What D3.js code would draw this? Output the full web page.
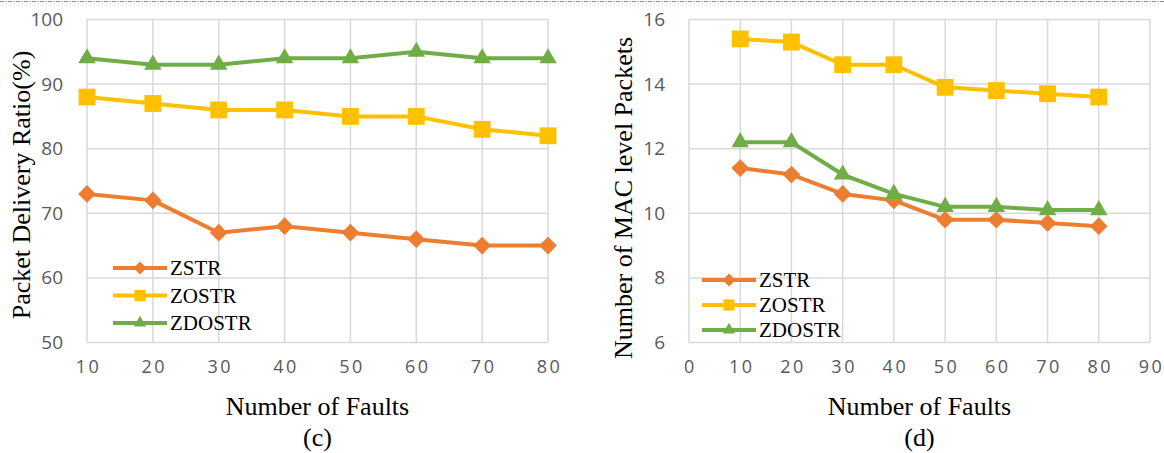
<!DOCTYPE html>
<html>
<head>
<meta charset="utf-8">
<script src="https://cdn.jsdelivr.net/npm/d3@7"></script>
<style>
  body { margin: 0; background: #fff; }
  svg { display: block; }
  .tick-label { font-family: "Open Sans", "Noto Sans", sans-serif; font-size: 18px; fill: #595959; letter-spacing: 2.5px; }
  .title { font-family: "Liberation Serif", "Times New Roman", serif; font-size: 26px; fill: #000; }
  .legend-text { font-family: "Liberation Serif", "Times New Roman", serif; font-size: 21px; fill: #000; }
</style>
</head>
<body>
<div id="chart"></div>
<script>
// data
const seriesNames = ["ZSTR", "ZOSTR", "ZDOSTR"];
const seriesColours = ["#ED7D31", "#FFC000", "#70AD47"];

const faults = [10, 20, 30, 40, 50, 60, 70, 80];

// (c) packet delivery ratio
const pdrZSTR   = [73, 72, 67, 68, 67, 66, 65, 65];
const pdrZOSTR  = [88, 87, 86, 86, 85, 85, 83, 82];
const pdrZDOSTR = [94, 93, 93, 94, 94, 95, 94, 94];
const pdrTicks  = [50, 60, 70, 80, 90, 100];
const pdrXTicks = [10, 20, 30, 40, 50, 60, 70, 80];

// (d) MAC level packets
const macZSTR   = [11.4, 11.2, 10.6, 10.4, 9.8, 9.8, 9.7, 9.6];
const macZOSTR  = [15.4, 15.3, 14.6, 14.6, 13.9, 13.8, 13.7, 13.6];
const macZDOSTR = [12.2, 12.2, 11.2, 10.6, 10.2, 10.2, 10.1, 10.1];
const macTicks  = [6, 8, 10, 12, 14, 16];
const macXTicks = [0, 10, 20, 30, 40, 50, 60, 70, 80, 90];

const W = 1164, H = 453;

const svg = d3.select("#chart").append("svg")
    .attr("width", W)
    .attr("height", H);

// dashed border line along the top
svg.append("line")
    .attr("x1", 0).attr("x2", W)
    .attr("y1", 1.5).attr("y2", 1.5)
    .attr("stroke", "#8a8a8a")
    .attr("stroke-width", 1)
    .attr("stroke-dasharray", "4,1.5,1,1.5");

// marker shapes: one per series, big on the lines, small in the legend
const markerTypes = [d3.symbolDiamond2, d3.symbolSquare2, d3.symbolTriangle2];
const markerSizes = [200, 360, 220];
const legendSizes = [110, 160, 110];

function drawPanel(opts){
    const g = svg.append("g");

    const x = d3.scaleLinear().domain(opts.xDomain).range([opts.left, opts.right]);
    const y = d3.scaleLinear().domain(opts.yDomain).range([opts.bottom, opts.top]);

    // gridlines
    g.append("g").selectAll("line")
        .data(opts.yTicks).enter().append("line")
        .attr("x1", opts.left).attr("x2", opts.right)
        .attr("y1", d => y(d)).attr("y2", d => y(d))
        .attr("stroke", "#d9d9d9").attr("stroke-width", 1.5);

    g.append("g").selectAll("line")
        .data(opts.xTicks).enter().append("line")
        .attr("x1", d => x(d)).attr("x2", d => x(d))
        .attr("y1", opts.top).attr("y2", opts.bottom)
        .attr("stroke", "#d9d9d9").attr("stroke-width", 1.5);

    // axes (labels only, the lines are the grid)
    const yAxis = g.append("g")
        .attr("transform", "translate(" + opts.left + ",0)")
        .call(d3.axisLeft(y).tickValues(opts.yTicks).tickSize(0).tickPadding(opts.yPad));
    yAxis.select(".domain").remove();
    yAxis.selectAll("text").attr("class", "tick-label").attr("font-size", null).attr("font-family", null)
        .style("letter-spacing", "0px").style("font-size", "19px");

    const xAxis = g.append("g")
        .attr("transform", "translate(0," + opts.bottom + ")")
        .call(d3.axisBottom(x).tickValues(opts.xTicks).tickSize(0).tickPadding(18));
    xAxis.select(".domain").remove();
    xAxis.selectAll("text").attr("class", "tick-label").attr("font-size", null).attr("font-family", null)
        .attr("dx", "1px");

    // series
    const line = d3.line().x(d => x(d.x)).y(d => y(d.y));
    opts.series.forEach((vals, i) => {
        const pts = faults.map((f, j) => ({ x: f, y: vals[j] }));
        g.append("path")
            .datum(pts)
            .attr("fill", "none")
            .attr("stroke", seriesColours[i])
            .attr("stroke-width", 4)
            .attr("stroke-linejoin", "round")
            .attr("d", line);
        g.append("g").selectAll("path")
            .data(pts).enter().append("path")
            .attr("transform", d => "translate(" + x(d.x) + "," + y(d.y) + ")")
            .attr("d", d3.symbol().type(markerTypes[i]).size(markerSizes[i]))
            .attr("fill", seriesColours[i]);
    });

    // legend
    const legend = g.append("g")
        .attr("transform", "translate(" + opts.legendX + "," + opts.legendY + ")");
    const rows = legend.selectAll("g")
        .data(seriesNames).enter().append("g")
        .attr("transform", (d, i) => "translate(0," + i * opts.legendStep + ")");
    rows.append("line")
        .attr("x1", 0).attr("x2", 54)
        .attr("stroke", (d, i) => seriesColours[i])
        .attr("stroke-width", 4);
    rows.append("path")
        .attr("transform", "translate(27,0)")
        .attr("d", (d, i) => d3.symbol().type(markerTypes[i]).size(legendSizes[i])())
        .attr("fill", (d, i) => seriesColours[i]);
    rows.append("text")
        .attr("class", "legend-text")
        .attr("x", 57)
        .attr("y", 7)
        .text(d => d);

    // titles
    const cx = (opts.left + opts.right) / 2;
    g.append("text").attr("class", "title")
        .attr("x", cx).attr("y", 415)
        .attr("text-anchor", "middle")
        .text("Number of Faults");
    g.append("text").attr("class", "title")
        .attr("x", cx).attr("y", 446)
        .attr("text-anchor", "middle")
        .text(opts.caption);
    g.append("text").attr("class", "title")
        .attr("transform", "translate(" + opts.yTitleX + "," + opts.yTitleY + ") rotate(-90)")
        .attr("text-anchor", "middle")
        .text(opts.yTitle);
}

drawPanel({
    left: 87, right: 548, top: 19.5, bottom: 342.5,
    xDomain: [10, 80], yDomain: [50, 100],
    xTicks: pdrXTicks, yTicks: pdrTicks, yPad: 24,
    series: [pdrZSTR, pdrZOSTR, pdrZDOSTR],
    legendX: 113, legendY: 268, legendStep: 27.5,
    caption: "(c)",
    yTitle: "Packet Delivery Ratio(%)", yTitleX: 30, yTitleY: 185
});

drawPanel({
    left: 689, right: 1150, top: 19.5, bottom: 342.5,
    xDomain: [0, 90], yDomain: [6, 16],
    xTicks: macXTicks, yTicks: macTicks, yPad: 24,
    series: [macZSTR, macZOSTR, macZDOSTR],
    legendX: 702, legendY: 280, legendStep: 25,
    caption: "(d)",
    yTitle: "Number of MAC level Packets", yTitleX: 632, yTitleY: 198
});
</script>
</body>
</html>
